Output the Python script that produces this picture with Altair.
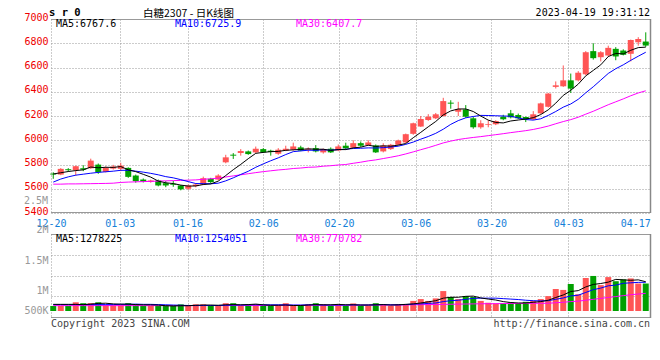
import altair as alt
import pandas as pd

MONO = "DejaVu Sans Mono"
CJK = "Noto Sans CJK SC"
RED = "#ff5555"
GREEN = "#00a000"

# ---------------- data ----------------
dates = ["12-20","12-21","12-22","12-23","12-26","12-27","12-28","12-29","12-30",
         "01-03","01-04","01-05","01-06","01-09","01-10","01-11","01-12","01-13",
         "01-16","01-17","01-18","01-19","01-20","01-30","01-31",
         "02-01","02-02","02-03","02-06","02-07","02-08","02-09","02-10",
         "02-13","02-14","02-15","02-16","02-17","02-20","02-21","02-22","02-23","02-24",
         "02-27","02-28","03-01","03-02","03-03","03-06","03-07","03-08","03-09","03-10",
         "03-13","03-14","03-15","03-16","03-17","03-20","03-21","03-22","03-23","03-24",
         "03-27","03-28","03-29","03-30","03-31","04-03","04-04","04-06","04-07",
         "04-10","04-11","04-12","04-13","04-14","04-17","04-18","04-19"]

opens = [5725,5717,5761,5753,5769,5769,5799,5739,5766,5764,5772,5709,5676,5657,5668,5646,5641,5627,5600,5622,
         5635,5682,5676,5818,5881,5895,5908,5900,5927,5914,5889,5914,5922,5941,5922,5935,5900,5930,5916,5955,
         5938,5976,5960,5957,5908,5927,5963,5982,6053,6113,6167,6181,6200,6310,6235,6254,6181,6107,6128,6132,
         6194,6222,6208,6192,6173,6222,6276,6440,6445,6494,6494,6544,6735,6685,6699,6754,6740,6713,6808,6814]
highs = [5736,5770,5770,5790,5794,5848,5808,5785,5797,5815,5777,5717,5685,5675,5676,5663,5665,5630,5635,5645,
         5700,5690,5720,5880,5894,5927,5915,5948,5935,5922,5935,5955,5980,5955,5941,5960,5932,5941,5965,5980,
         6000,5990,6000,5965,5975,5970,6005,6055,6145,6200,6215,6225,6350,6330,6317,6290,6195,6165,6165,6165,
         6210,6250,6220,6195,6240,6310,6390,6485,6617,6550,6570,6735,6800,6735,6780,6768,6750,6830,6850,6890]
lows = [5682,5712,5740,5709,5745,5764,5723,5735,5758,5745,5690,5650,5652,5650,5620,5613,5616,5587,5590,5612,
        5630,5645,5670,5810,5846,5873,5880,5895,5895,5873,5880,5910,5914,5910,5900,5900,5890,5895,5910,5920,
        5935,5945,5955,5895,5900,5920,5958,5978,6045,6110,6160,6175,6195,6260,6200,6185,6095,6095,6107,6125,
        6165,6180,6175,6150,6168,6218,6270,6427,6440,6390,6485,6535,6665,6650,6690,6660,6700,6650,6780,6770]
closes = [5717,5764,5753,5786,5758,5832,5737,5772,5783,5791,5698,5663,5660,5668,5627,5627,5633,5595,5627,5635,
          5687,5655,5709,5859,5873,5911,5886,5930,5900,5903,5922,5930,5949,5914,5930,5908,5927,5900,5949,5933,
          5976,5955,5982,5900,5955,5963,5998,6050,6140,6175,6194,6214,6323,6302,6257,6194,6107,6140,6134,6159,
          6173,6189,6181,6173,6214,6304,6385,6453,6494,6426,6557,6726,6677,6726,6762,6691,6705,6827,6835,6781]
ma5 = [5722,5732,5742,5750,5756,5779,5773,5777,5776,5783,5756,5741,5719,5696,5663,5649,5643,5630,5622,5623,
       5635,5640,5663,5709,5757,5801,5848,5892,5900,5906,5908,5917,5921,5924,5929,5926,5926,5916,5923,5923,
       5937,5943,5959,5949,5954,5951,5960,5973,6021,6065,6111,6155,6209,6242,6258,6258,6237,6200,6166,6147,
       6143,6159,6167,6175,6186,6212,6251,6306,6370,6412,6463,6531,6576,6622,6690,6716,6712,6742,6764,6768]
ma10 = [5655,5680,5698,5712,5720,5728,5735,5740,5745,5752,5752,5745,5737,5727,5715,5700,5690,5675,5659,5643,
        5642,5641,5646,5665,5690,5718,5744,5777,5805,5831,5855,5882,5906,5912,5918,5917,5921,5918,5923,5926,
        5932,5934,5937,5936,5939,5944,5951,5966,5985,6009,6031,6057,6091,6131,6162,6185,6196,6205,6204,6202,
        6200,6198,6184,6171,6166,6177,6205,6237,6273,6299,6338,6391,6441,6496,6551,6590,6622,6659,6693,6726]
ma30 = [5638,5638,5640,5640,5641,5642,5643,5644,5646,5652,5655,5657,5659,5661,5663,5665,5667,5669,5671,5673,
        5678,5682,5688,5697,5706,5715,5724,5733,5741,5748,5755,5760,5767,5771,5777,5779,5786,5790,5796,5800,
        5810,5819,5830,5838,5849,5860,5872,5887,5904,5922,5939,5958,5978,5993,6006,6015,6023,6030,6038,6046,
        6054,6063,6071,6079,6089,6102,6117,6136,6154,6170,6190,6215,6239,6266,6293,6317,6341,6367,6390,6408]

volumes = [220,220,220,380,340,340,380,260,250,260,340,290,220,220,220,220,220,290,220,290,
           290,220,220,340,340,220,290,290,220,220,220,340,220,220,290,340,290,220,290,220,
           330,220,220,340,290,220,290,290,440,520,440,550,870,610,520,650,610,440,360,330,
           330,380,330,400,440,520,650,960,920,1180,730,1440,1530,1130,1480,1300,1380,1420,1200,1200]
vma5 = [290,290,290,290,280,300,330,340,310,300,300,280,270,270,260,230,220,230,230,250,
        260,260,250,270,280,270,280,300,270,250,250,260,240,240,260,280,270,270,290,270,
        270,260,260,270,280,260,270,290,310,350,400,450,560,600,600,640,650,570,520,480,
        410,370,350,350,380,410,470,590,700,850,890,1050,1160,1200,1260,1380,1360,1340,1360,1278]
vma10 = [280,280,280,280,280,280,280,280,280,290,290,300,290,290,280,270,260,250,240,240,
         240,240,240,250,260,260,270,270,270,270,270,270,260,260,270,270,260,260,260,260,
         270,260,260,270,280,270,270,280,300,310,330,350,410,450,470,510,550,560,560,560,
         540,520,500,470,450,440,450,510,570,660,690,810,930,1000,1100,1130,1210,1230,1250,1254]
vma30 = [235,235,235,235,235,235,235,235,235,235,235,235,235,235,235,235,235,235,235,235,
         238,238,238,238,238,238,238,240,240,240,245,245,245,245,245,248,248,248,250,250,
         255,255,258,258,260,260,262,265,270,275,280,285,290,295,300,305,310,315,318,320,
         325,328,330,332,335,335,338,360,380,410,430,470,510,550,590,630,670,710,740,771]

ma_price_last = ["6767.6", "6725.9", "6407.7"]
ma_vol_last = ["1278225", "1254051", "770782"]

# axis tick positions (in candle-index units) and their labels
tick_pos = [-0.3, 8.86, 17.9, 28.0, 38.1, 48.33, 58.43, 68.66, 77.6]
tick_lab = ["12-20", "01-03", "01-16", "02-06", "02-20", "03-06", "03-20", "04-03", "04-17"]
price_ticks = [5400, 5600, 5800, 6000, 6200, 6400, 6600, 6800, 7000]
vol_grid = [668000, 1541000, 2437000]
vol_label_pos = [0, 886000, 2214000, 3362000]
vol_label_txt = ["500K", "1M", "1.5M", "2M"]

n = len(closes)
df = pd.DataFrame({
    "idx": list(range(n)), "date": dates,
    "open": opens, "high": highs, "low": lows, "close": closes,
    "ma5": ma5, "ma10": ma10, "ma30": ma30,
    "vol": [v * 1000 for v in volumes],
    "vma5": [v * 1000 for v in vma5], "vma10": [v * 1000 for v in vma10],
    "vma30": [v * 1000 for v in vma30],
})
df["dir"] = ["up" if c > o else "down" for o, c in zip(opens, closes)]
df["x0"] = df["idx"] - 0.4
df["x1"] = df["idx"] + 0.4

W, H1, H2 = 600, 194, 84

def build_expr(pos, lab):
    parts = []
    for i in range(len(pos) - 1):
        mid = (pos[i] + pos[i + 1]) / 2
        parts.append(f"datum.value < {mid} ? '{lab[i]}' : ")
    return "".join(parts) + f"'{lab[-1]}'"

x_expr = build_expr(tick_pos, tick_lab)
xscale = alt.Scale(domain=[-0.3, 79.7], nice=False, zero=False)
grid_cond = {"condition": {"test": "datum.value > 77", "value": 0}, "value": 1}

x_top_axis = alt.Axis(values=tick_pos, labelExpr=x_expr, grid=True, gridOpacity=grid_cond,
                      labels=True, labelColor="#1480d8", labelFont=MONO, labelFontSize=10,
                      labelPadding=5, labelAngle=0, title=None, labelFlush=False)
x_bot_axis = alt.Axis(values=tick_pos, grid=True, gridOpacity=grid_cond, labels=False, title=None)

pscale = alt.Scale(domain=[5400, 7000], nice=False, zero=False)
p_axis = alt.Axis(values=price_ticks, grid=True, format="d", labelColor="#ee0000", labelFont=MONO,
                  labelFontSize=10, labelPadding=3, labelOffset=-2, title=None)

color = alt.Color("dir:N", scale=alt.Scale(domain=["up", "down"], range=[RED, GREEN]), legend=None)

def txt(text, x, y, col, size=10, align="left", baseline="middle", font=MONO, weight="normal"):
    return alt.Chart(pd.DataFrame({"t": [text]})).mark_text(
        align=align, baseline=baseline, font=font, fontSize=size, color=col, fontWeight=weight
    ).encode(text="t:N", x=alt.value(x), y=alt.value(y))

def frame(h):
    one = pd.DataFrame({"k": [0]})
    top = alt.Chart(one).mark_rule(color="#999", strokeWidth=1).encode(
        x=alt.value(0), x2=alt.value(W), y=alt.value(0.5))
    bot = alt.Chart(one).mark_rule(color="#999", strokeWidth=1).encode(
        x=alt.value(0), x2=alt.value(W), y=alt.value(h - 0.5))
    right = alt.Chart(one).mark_rule(color="#888", strokeWidth=1.5).encode(
        x=alt.value(W - 0.5), y=alt.value(0), y2=alt.value(h))
    return top + bot + right

# invisible element fixing the top edge of the whole chart
top_anchor = alt.Chart(pd.DataFrame({"k": [0]})).mark_rule(color="#fff", opacity=0).encode(
    x=alt.value(0), y=alt.value(-11), y2=alt.value(-10))

base = alt.Chart(df)
X = alt.X("idx:Q", scale=xscale, axis=x_top_axis)

wicks = base.mark_rule(strokeWidth=1).encode(
    x=X, y=alt.Y("low:Q", scale=pscale, axis=p_axis), y2="high:Q", color=color)
bodies = base.mark_rect().encode(
    x=alt.X("x0:Q", scale=xscale, axis=x_top_axis), x2="x1:Q",
    y=alt.Y("open:Q", scale=pscale, axis=p_axis), y2="close:Q", color=color)

def ma_line(field, col):
    return base.mark_line(color=col, strokeWidth=1).encode(
        x=X, y=alt.Y(f"{field}:Q", scale=pscale, axis=p_axis))

top = alt.layer(
    wicks, bodies,
    ma_line("ma30", "#ff00ff"), ma_line("ma10", "#0000ff"), ma_line("ma5", "#000000"),
    frame(H1), top_anchor,
    txt("MA5:" + ma_price_last[0], 5, 5, "#000000"),
    txt("MA10:" + ma_price_last[1], 124, 5, "#0000ff"),
    txt("MA30:" + ma_price_last[2], 245, 5, "#ff00ff"),
    txt("s r 0", -2, -3, "#000000", size=10.5, baseline="alphabetic", weight="bold"),
    txt("白糖2307 - 日K线图", 92, -2, "#000000", size=10.5, baseline="alphabetic", font=CJK),
    txt("2023-04-19 19:31:12", W - 1, -3, "#000000", size=10, align="right", baseline="alphabetic"),
    txt("2.5M", -3, 182, "#999999", size=10, align="right"),
).properties(width=W, height=H1)

# ---------------- volume panel ----------------
vscale = alt.Scale(domain=[-306000, 3362000], nice=False, zero=False)
v_label_expr = " : ".join(
    [f"datum.value == {p} ? '{t}'" for p, t in zip(vol_label_pos, vol_label_txt)]) + " : ''"
v_grid_test = " || ".join([f"datum.value == {g}" for g in vol_grid])
v_axis = alt.Axis(values=sorted(vol_grid + vol_label_pos), labelExpr=v_label_expr, grid=True,
                  gridOpacity={"condition": {"test": v_grid_test, "value": 1}, "value": 0},
                  labelColor="#999999", labelFont=MONO, labelFontSize=10, labelPadding=3,
                  labelBaseline={"condition": {"test": "datum.value > 3000000", "value": "bottom"},
                                 "value": "middle"},
                  title=None)
XB = alt.X("idx:Q", scale=xscale, axis=x_bot_axis)

vbars = base.mark_rect().encode(
    x=alt.X("x0:Q", scale=xscale, axis=x_bot_axis), x2="x1:Q",
    y=alt.Y("vol:Q", scale=vscale, axis=v_axis), y2=alt.datum(0), color=color)

def vma_line(field, col):
    return base.mark_line(color=col, strokeWidth=1).encode(
        x=XB, y=alt.Y(f"{field}:Q", scale=vscale, axis=v_axis))

bottom = alt.layer(
    vbars,
    vma_line("vma30", "#ff00ff"), vma_line("vma10", "#0000ff"), vma_line("vma5", "#000000"),
    frame(H2),
    txt("MA5:" + ma_vol_last[0], 5, 5, "#000000"),
    txt("MA10:" + ma_vol_last[1], 124, 5, "#0000ff"),
    txt("MA30:" + ma_vol_last[2], 245, 5, "#ff00ff"),
    txt("Copyright 2023 SINA.COM", 0, H2 + 6, "#444444", baseline="middle"),
    txt("http://finance.sina.com.cn", W - 1, H2 + 6, "#444444", align="right"),
).properties(width=W, height=H2)

chart = alt.vconcat(top, bottom, spacing=21, bounds="flush").properties(
    padding={"left": 15, "top": 0, "right": 0, "bottom": 0}
).configure_view(stroke=None).configure_axis(
    domain=False, ticks=False, gridColor="#999999", gridDash=[1, 2], gridWidth=1
)

chart.save("out.html", embed_options={"renderer": "svg", "actions": False})
